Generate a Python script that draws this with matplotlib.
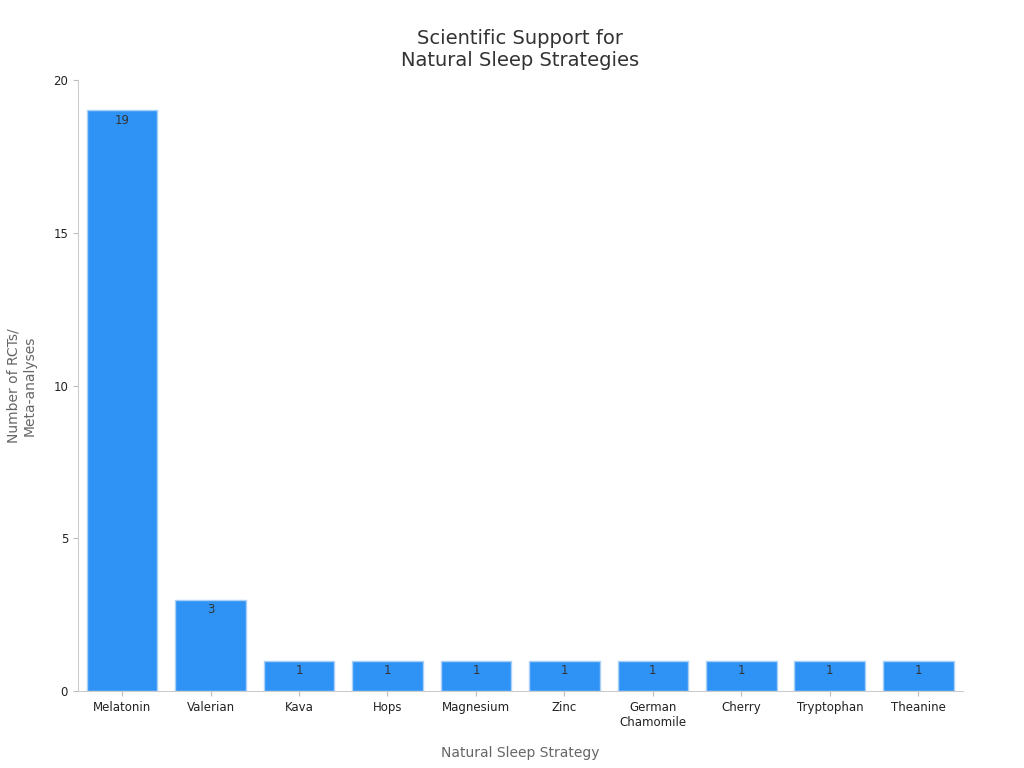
import matplotlib
matplotlib.use("Agg")
import matplotlib.pyplot as plt
import numpy as np

categories = ["Melatonin", "Valerian", "Kava", "Hops", "Magnesium", "Zinc",
              "German\nChamomile", "Cherry", "Tryptophan", "Theanine"]
counts = [19, 3, 1, 1, 1, 1, 1, 1, 1, 1]

fig = plt.figure(figsize=(10.24, 7.68), dpi=100)
ax = fig.add_axes([0.076, 0.100, 0.864, 0.796])

x = np.arange(len(categories))
bars = ax.bar(x, counts, width=0.8, color="#2F92F5", edgecolor="#A9D0F8", linewidth=1)
for b, v in zip(bars, counts):
    ax.text(b.get_x() + b.get_width() / 2, v - 0.12, str(v), ha="center", va="top",
            fontsize=8.5, color="#333333")

ax.set_xlim(-0.5, len(categories) - 0.5)
ax.set_ylim(0, 20)
ax.set_yticks([0, 5, 10, 15, 20])
ax.set_xticks(x)
ax.set_xticklabels(categories, fontsize=8.5, color="#222222")
ax.tick_params(axis="y", labelsize=8.5, colors="#222222")
ax.tick_params(axis="both", color="#BBBBBB")
for s in ["top", "right"]:
    ax.spines[s].set_visible(False)
for s in ["left", "bottom"]:
    ax.spines[s].set_color("#CCCCCC")

ax.set_xlabel("Natural Sleep Strategy", fontsize=10, color="#666666", labelpad=12)
ax.set_ylabel("Number of RCTs/\nMeta-analyses", fontsize=10, color="#666666", labelpad=12)
ax.set_title("Scientific Support for\nNatural Sleep Strategies", fontsize=14, color="#333333", pad=10)

fig.savefig("out.png", dpi=100)
